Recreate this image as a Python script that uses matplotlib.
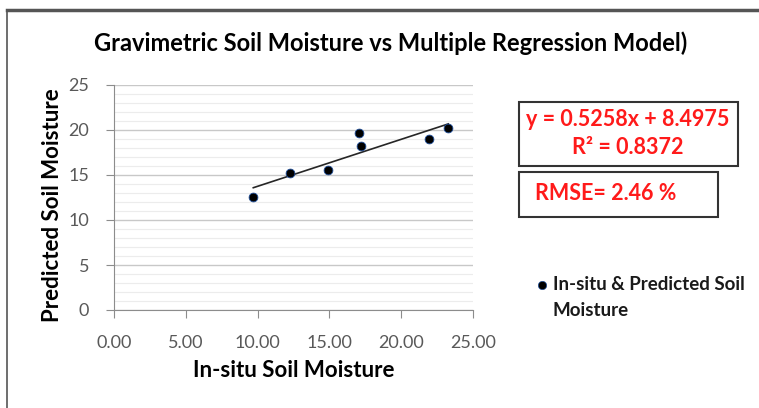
import numpy as np
import matplotlib.pyplot as plt
from matplotlib.patches import Rectangle
from matplotlib.lines import Line2D

# In-situ vs predicted soil moisture
insitu = [9.70, 12.26, 14.88, 17.04, 17.18, 21.96, 23.28]
predicted = [12.52, 15.26, 15.56, 19.63, 18.22, 19.00, 20.19]
eq_text = 'y = 0.5258x + 8.4975'
r2_text = 'R² = 0.8372'
rmse_text = 'RMSE= 2.46 %'

plt.rcParams['font.family'] = ['Lato', 'DejaVu Sans']

fig = plt.figure(figsize=(7.59, 4.08), dpi=100)
W, H = 759, 408
ax = fig.add_axes([114 / W, 1 - 310 / H, 359 / W, 225 / H])

# trendline from a linear fit
slope, intercept = np.polyfit(insitu, predicted, 1)
xs = np.array([min(insitu), max(insitu)])
ax.plot(xs, slope * xs + intercept, color='#262626', lw=1.2, zorder=3)
ax.scatter(insitu, predicted, s=40, color='black', edgecolors='#1f4e9a',
           linewidths=0.6, zorder=4)

ax.set_xlim(0, 25)
ax.set_ylim(0, 25)
ax.set_xticks(np.arange(0, 26, 5))
ax.set_xticklabels(['%.2f' % v for v in np.arange(0, 26, 5)])
ax.set_yticks(np.arange(0, 26, 5))
ax.set_yticks(np.arange(0, 26, 1), minor=True)
ax.grid(which='major', axis='y', color='#c8c8c8', lw=1.0)
ax.grid(which='minor', axis='y', color='#ececec', lw=0.8)
ax.set_axisbelow(True)
for s in ['top', 'right']:
    ax.spines[s].set_visible(False)
for s in ['left', 'bottom']:
    ax.spines[s].set_color('#8c8c8c')
ax.tick_params(which='major', direction='out', length=6, color='#8c8c8c',
               labelsize=13, labelcolor='#595959')
ax.tick_params(axis='x', pad=12)
ax.tick_params(axis='y', pad=12)
ax.tick_params(which='minor', length=0)

ax.set_xlabel('In-situ Soil Moisture', fontsize=16, fontweight='bold', va='center')
ax.set_ylabel('Predicted Soil Moisture', fontsize=16, fontweight='bold', va='center')
ax.xaxis.set_label_coords(0.5, -0.267)
ax.yaxis.set_label_coords(-0.17, 0.467)

fig.text(391 / W, 1 - 43 / H, 'Gravimetric Soil Moisture vs Multiple Regression Model)',
         ha='center', va='center', fontsize=17, fontweight='bold')

# equation and RMSE boxes
fig.patches.append(Rectangle((519 / W, 1 - 166 / H), 219 / W, 64 / H,
                             transform=fig.transFigure, fill=False,
                             edgecolor='#333333', lw=1.5))
fig.patches.append(Rectangle((519 / W, 1 - 217 / H), 199 / W, 45 / H,
                             transform=fig.transFigure, fill=False,
                             edgecolor='#333333', lw=1.5))
fig.text(628 / W, 1 - 120 / H, eq_text, ha='center', va='center',
         fontsize=15.5, fontweight='bold', color='#ff1a1a')
fig.text(628 / W, 1 - 148 / H, r2_text, ha='center', va='center',
         fontsize=15.5, fontweight='bold', color='#ff1a1a')
fig.text(535 / W, 1 - 194 / H, rmse_text, ha='left', va='center',
         fontsize=15.5, fontweight='bold', color='#ff1a1a')

# legend
fig.lines.append(Line2D([542 / W], [1 - 285 / H], transform=fig.transFigure,
                        marker='o', ms=6, color='black', mec='#1f4e9a', mew=0.5))
fig.text(553 / W, 1 - 284 / H, 'In-situ & Predicted Soil', ha='left', va='center',
         fontsize=13.5, fontweight='bold', color='#1a1a1a')
fig.text(553 / W, 1 - 310 / H, 'Moisture', ha='left', va='center',
         fontsize=13.5, fontweight='bold', color='#1a1a1a')

# chart frame (top and left edges)
fig.lines.append(Line2D([7 / W, 1], [1 - 10 / H, 1 - 10 / H], transform=fig.transFigure,
                        color='#555555', lw=2.5))
fig.lines.append(Line2D([7 / W, 7 / W], [0, 1 - 10 / H], transform=fig.transFigure,
                        color='#555555', lw=1.2))

fig.savefig('out.png', dpi=100)
